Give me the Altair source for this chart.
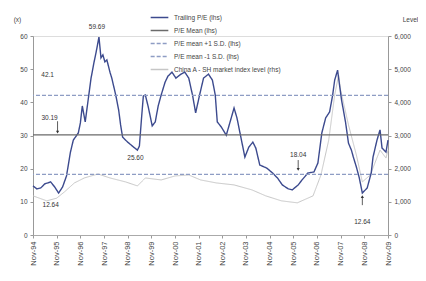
import altair as alt
import pandas as pd

# ---------------- data ----------------
pe_dates = ["1994-11-01","1995-01-01","1995-03-01","1995-05-01","1995-08-01","1995-10-01","1995-12-01",
            "1996-02-01","1996-04-01","1996-06-01","1996-07-15","1996-10-01","1996-11-01","1996-12-01",
            "1997-01-15","1997-03-01","1997-04-15","1997-06-01","1997-07-01","1997-08-15","1997-09-15",
            "1997-10-15","1997-11-15","1997-12-15","1998-02-01","1998-03-01","1998-05-01","1998-06-15",
            "1998-07-15","1998-08-15","1998-11-01","1999-02-01","1999-04-01","1999-05-01","1999-06-01",
            "1999-07-01","1999-08-01","1999-09-15","1999-11-15","2000-01-01","2000-02-15","2000-04-01",
            "2000-06-01","2000-07-15","2000-09-15","2000-11-15","2001-02-01","2001-04-01","2001-06-01",
            "2001-08-01","2001-09-15","2001-11-15","2002-01-15","2002-04-01","2002-06-01","2002-07-15",
            "2002-08-15","2002-10-15","2003-01-01","2003-03-01","2003-05-01","2003-06-15","2003-10-15",
            "2003-12-15","2004-02-15","2004-04-01","2004-06-01","2004-09-15","2004-12-15","2005-03-01",
            "2005-05-15","2005-08-15","2005-10-15","2006-01-15","2006-03-15","2006-06-15","2006-09-15",
            "2006-11-15","2007-01-15","2007-03-15","2007-05-15","2007-07-01","2007-08-01","2007-09-15",
            "2007-10-15","2007-11-15","2008-01-15","2008-03-01","2008-04-15","2008-05-15","2008-07-01",
            "2008-08-15","2008-10-01","2008-12-15","2009-02-15","2009-03-15","2009-05-15","2009-07-01",
            "2009-08-01","2009-10-01","2009-11-01"]
pe_values = [14.8,13.9,14.2,15.4,16.0,14.5,12.64,
             14.5,17.8,25.0,28.6,30.8,33.8,38.9,
             34.1,40.7,47.3,52.2,55.0,59.69,53.4,
             54.3,52.2,52.8,49.1,47.3,42.2,37.7,
             33.2,29.5,28.0,26.5,25.6,26.8,34.7,
             41.9,42.2,38.6,32.9,34.1,38.9,42.2,
             46.1,47.9,49.1,47.3,48.5,49.1,47.3,
             41.9,36.8,42.2,47.3,48.5,46.7,42.2,
             34.1,32.6,30.1,34.1,38.3,35.3,23.5,
             26.5,28.0,26.2,21.1,20.2,18.7,17.2,
             15.1,13.9,13.6,15.1,16.6,18.7,19.0,
             21.7,30.8,35.3,37.1,42.2,46.7,49.7,
             45.2,40.7,34.1,27.7,25.6,23.5,20.5,
             17.2,12.64,14.2,18.7,23.5,28.6,31.7,
             26.2,25.0,28.6]

idx_dates = ["1994-11-01","1995-06-01","1995-11-01","1996-03-01","1996-08-01","1997-01-01","1997-08-01",
             "1998-02-01","1998-10-01","1999-04-01","1999-08-01","2000-04-01","2000-11-01","2001-06-01",
             "2001-12-01","2002-08-01","2003-05-01","2004-02-01","2004-09-01","2005-05-01","2006-01-01",
             "2006-09-01","2007-01-01","2007-05-01","2007-08-01","2007-10-01","2007-11-01","2008-03-01",
             "2008-07-01","2008-10-01","2009-02-01","2009-05-01","2009-07-01","2009-10-01","2009-11-01"]
idx_values = [1180,1030,1110,1300,1570,1720,1840,
              1720,1600,1480,1720,1660,1780,1810,
              1660,1570,1510,1360,1180,1030,970,
              1180,1810,2860,4220,4820,4370,3320,
              2410,1600,1810,2260,2560,2320,2560]

series_names = ["Trailing P/E (lhs)", "P/E Mean (lhs)", "P/E mean +1 S.D. (lhs)",
                "P/E mean -1 S.D. (lhs)", "China A - SH market index level (rhs)"]
ref_series = ["P/E Mean (lhs)", "P/E mean +1 S.D. (lhs)", "P/E mean -1 S.D. (lhs)"]
ref_values = [30.19, 42.1, 18.28]

tick_years = list(range(1994, 2010))
pe_ticks = [0, 10, 20, 30, 40, 50, 60]
level_ticks = [0, 1000, 2000, 3000, 4000, 5000, 6000]

ann_text = ["59.69", "42.1", "30.19", "25.60", "18.04", "12.64", "12.64"]
ann_dates = ["1997-07-15", "1995-06-15", "1995-07-15", "1999-03-01", "2006-01-15", "1995-08-01", "2008-10-01"]
ann_values = [62.7, 48.2, 35.3, 23.2, 24.1, 9.0, 3.9]

arrow_dates = ["1995-11-15", "2006-01-15", "2008-10-01"]
arrow_from = [34.3, 22.6, 9.0]
arrow_to = [31.0, 19.8, 11.6]
arrow_shape = ["triangle-down", "triangle-down", "triangle-up"]

# ---------------- frames ----------------
pe_df = pd.DataFrame({"date": pe_dates, "value": pe_values, "series": series_names[0]})
idx_df = pd.DataFrame({"date": idx_dates, "value": idx_values, "series": series_names[4]})
ref_df = pd.DataFrame({"value": ref_values, "series": ref_series})
ann_df = pd.DataFrame({"date": ann_dates, "value": ann_values, "label": ann_text})
arr_df = pd.DataFrame({"date": arrow_dates, "y1": arrow_from, "y2": arrow_to, "shape": arrow_shape})

FONT = "Liberation Sans"
colors = ["#3c4a8e", "#6b6b6b", "#8e9dc4", "#8e9dc4", "#c6c6c6"]
dashes = [[1, 0], [1, 0], [4, 2], [4, 2], [1, 0]]

legend = alt.Legend(title=None, orient="none", legendX=122, legendY=-23,
                    labelFont=FONT, labelFontSize=6.5, labelColor="#444",
                    symbolType="M-2.5,0H2.5", symbolSize=50, symbolStrokeWidth=1.3,
                    rowPadding=5, labelOffset=10, padding=0, labelLimit=300)
color_enc = alt.Color("series:N", scale=alt.Scale(domain=series_names, range=colors), legend=legend)
dash_enc = alt.StrokeDash("series:N", scale=alt.Scale(domain=series_names, range=dashes), legend=legend)

xscale = alt.Scale(type="utc", domain=[alt.DateTime(year=1994, month=11, date=1, utc=True),
                                       alt.DateTime(year=2009, month=11, date=1, utc=True)])
xaxis = alt.Axis(values=[alt.DateTime(year=y, month=11, date=1, utc=True) for y in tick_years],
                 format="%b-%y", labelAngle=270, labelFont=FONT, labelFontSize=7.5, labelColor="#444",
                 tickSize=3, tickColor="#999", domainColor="#aaa", labelPadding=3, title=None,
                 grid=False, labelOverlap=False)

yscale = alt.Scale(domain=[0, 60], nice=False)
yaxis = alt.Axis(values=pe_ticks, title="(x)", titleAngle=0, titleX=-16, titleY=-14,
                 titleFont=FONT, titleFontSize=6.5, titleFontWeight="normal", titleColor="#444",
                 labelFont=FONT, labelFontSize=6.5, labelColor="#444", tickSize=3, tickColor="#999",
                 domainColor="#999", grid=False, labelPadding=3, labelOverlap=False)


def X(field="date:T"):
    return alt.X(field, scale=xscale, axis=xaxis)


def Y(field):
    return alt.Y(field, scale=yscale, axis=yaxis)


pe_line = alt.Chart(pe_df).mark_line(strokeWidth=1.4).encode(
    x=X(), y=Y("value:Q"), color=color_enc, strokeDash=dash_enc)

ref_rules = alt.Chart(ref_df).mark_rule(strokeWidth=1.1).encode(
    y=Y("value:Q"), color=color_enc, strokeDash=dash_enc)

ann = alt.Chart(ann_df).mark_text(font=FONT, fontSize=6.5, color="#333").encode(
    x=X(), y=Y("value:Q"), text="label:N")

arr_rule = alt.Chart(arr_df).mark_rule(color="#333", strokeWidth=0.8).encode(
    x=X(), y=Y("y1:Q"), y2="y2:Q")
arr_head = alt.Chart(arr_df).mark_point(filled=True, size=10, color="#333", opacity=1).encode(
    x=X(), y=Y("y2:Q"), shape=alt.Shape("shape:N", scale=None, legend=None))

left = alt.layer(pe_line, ref_rules, ann, arr_rule, arr_head)

raxis = alt.Axis(orient="right", values=level_ticks, title="Level",
                 titleAngle=0, titleX=22, titleY=-14, titleFont=FONT, titleFontSize=6.5,
                 titleFontWeight="normal", titleColor="#444", labelFont=FONT, labelFontSize=6.5,
                 labelColor="#444", tickSize=3, tickColor="#999", domainColor="#999", grid=False,
                 labelPadding=3, labelOverlap=False)
idx_line = alt.Chart(idx_df).mark_line(strokeWidth=1).encode(
    x=X(), y=alt.Y("value:Q", scale=alt.Scale(domain=[0, 6000], nice=False), axis=raxis),
    color=color_enc, strokeDash=dash_enc)

chart = alt.layer(idx_line, left).resolve_scale(y="independent").properties(
    width=355, height=199,
    autosize=alt.AutoSizeParams(type="none"),
    padding={"left": 25, "top": 28, "right": 30, "bottom": 38},
).configure_view(stroke=None).configure(background="white")

chart.save("out.html", embed_options={"renderer": "svg", "actions": False})
